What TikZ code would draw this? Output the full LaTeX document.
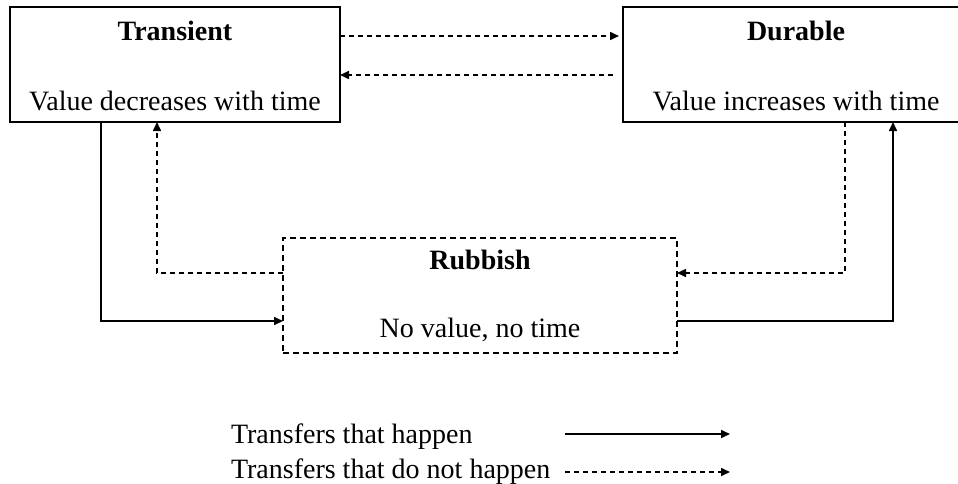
\documentclass[tikz,border=0pt]{standalone}
\usepackage{fontspec}
\setmainfont{Liberation Serif}
\usetikzlibrary{arrows.meta}
\begin{document}
\begin{tikzpicture}[x=1pt,y=-1pt,
  every node/.style={inner sep=0pt,outer sep=0pt,font=\fontsize{28}{33}\selectfont},
  box/.style={draw,line width=1.7pt,rectangle,minimum height=115pt},
  dbox/.style={box,line width=1.6pt,dash pattern=on 6pt off 4pt},
  txt/.style={anchor=base},
  ltxt/.style={anchor=base west},
  solidarrow/.style={line width=1.6pt,-{Triangle[length=9pt,width=8pt]}},
  dasharrow/.style={line width=1.6pt,dash pattern=on 5pt off 4pt,-{Triangle[length=9pt,width=8pt]}}
]
\useasboundingbox (0,0) rectangle (958,483);
\clip (0,0) rectangle (958,483);
\fill[white] (0,0) rectangle (958,483);
% boxes
\node[box,minimum width=330pt] (T) at (175,64.5) {};
\node[box,minimum width=346pt] (D) at (796,64.5) {};
\node[dbox,minimum width=394pt] (R) at (480,295.5) {};
% texts
\node[txt] (Tt) at (175,40) {\textbf{Transient}};
\node[txt] (Ts) at (175,110) {Value decreases with time};
\node[txt] (Dt) at (796,40) {\textbf{Durable}};
\node[txt] (Ds) at (796,110) {Value increases with time};
\node[txt] (Rt) at (480,269) {\textbf{Rubbish}};
\node[txt] (Rs) at (480,337) {No value, no time};
% connectors
\draw[dasharrow,shorten >=4pt] ([yshift=28.5pt]T.east) -- ([yshift=28.5pt]D.west);
\draw[dasharrow,shorten <=10pt] ([yshift=-10.5pt]D.east -| D.west) -- ([yshift=-10.5pt]T.east);
\draw[solidarrow] ([xshift=-74pt]T.south) |- ([yshift=-25.5pt]R.west);
\draw[dasharrow] ([yshift=22.5pt]R.west) -| ([xshift=-18pt]T.south);
\draw[dasharrow] ([xshift=49pt]D.south) |- ([yshift=22.5pt]R.east);
\draw[solidarrow] ([yshift=-25.5pt]R.east) -| ([xshift=97pt]D.south);
% legend
\node[ltxt] (L1) at (231,443) {Transfers that happen};
\node[ltxt] (L2) at (231,478) {Transfers that do not happen};
\coordinate (L1a) at (565,434);
\coordinate (L1b) at (730,434);
\coordinate (L2a) at (565,472);
\coordinate (L2b) at (730,472);
\draw[solidarrow] (L1a) -- (L1b);
\draw[dasharrow] (L2a) -- (L2b);
\end{tikzpicture}
\end{document}
